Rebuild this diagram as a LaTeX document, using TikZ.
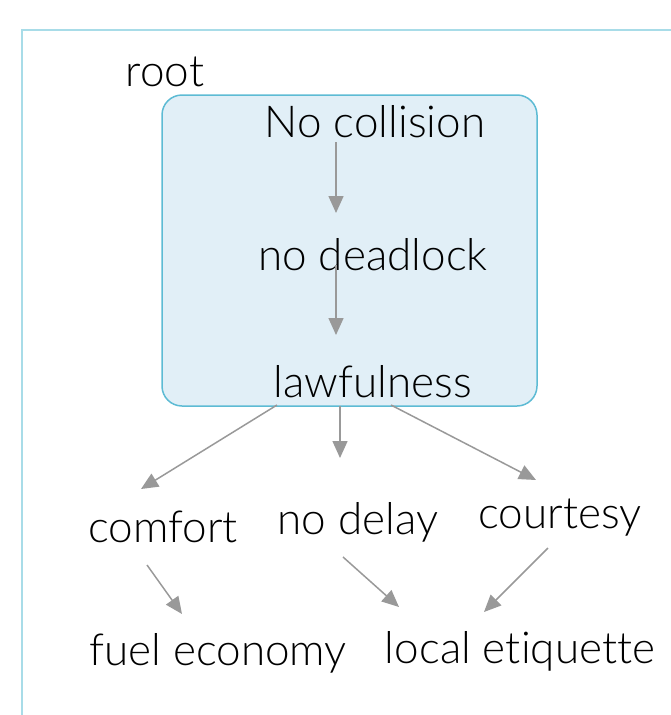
\documentclass[tikz,border=0pt]{standalone}
\usepackage{fontspec}
\setmainfont{Lato Light}[Ligatures=NoCommon]
\usetikzlibrary{calc,arrows.meta}
\definecolor{framec}{HTML}{A8DCE8}
\definecolor{boxline}{HTML}{5DBBD4}
\definecolor{boxfill}{HTML}{E1EFF7}
\definecolor{arrc}{HTML}{999999}
\tikzset{
  lbl/.style={inner sep=0pt, font=\fontsize{44}{52}\selectfont, text=black},
  arr/.style={draw=arrc, line width=1.5pt, -{Triangle[length=17pt,width=15pt]}},
}
\begin{document}
\begin{tikzpicture}[x=1pt,y=-1pt]
\useasboundingbox (0,0) rectangle (671,715);
\draw[framec, line width=2pt] (22,715) -- (22,30) -- (671,30);
\node[draw=boxline, fill=boxfill, line width=1.5pt, rounded corners=20pt, minimum width=375pt, minimum height=311pt, inner sep=0pt] (rootbox) at (349.5,250.5) {};
\node[lbl] (rootlbl) at (165,72) {root};
\node[lbl] (nc) at (375,122) {No collision};
\node[lbl] (nd) at (373,255) {no deadlock};
\node[lbl] (law) at (373,382) {lawfulness};
\node[lbl] (comfort) at (163,527) {comfort};
\node[lbl] (ndelay) at (358,522) {no delay};
\node[lbl] (court) at (560,518) {courtesy};
\node[lbl] (fuel) at (218,653) {fuel economy};
\node[lbl] (local) at (520,651) {local etiquette};
\draw[arr] ($(nc)+(-39,20)$) -- ($(nd)+(-37,-42)$);
\draw[arr] ($(nd)+(-37,10)$) -- ($(law)+(-37,-47)$);
\draw[arr] ($(law)+(-96,23)$) -- ($(comfort)+(-22,-38)$);
\draw[arr] ($(law)+(-33,24)$) -- ($(ndelay)+(-18,-64)$);
\draw[arr] ($(law)+(18,23)$) -- ($(court)+(-24,-38)$);
\draw[arr] ($(comfort)+(-16,38)$) -- ($(fuel)+(-36,-39)$);
\draw[arr] ($(ndelay)+(-15,35)$) -- ($(local)+(-121,-44)$);
\draw[arr] ($(court)+(-12,30)$) -- ($(local)+(-36,-39)$);
\end{tikzpicture}
\end{document}
